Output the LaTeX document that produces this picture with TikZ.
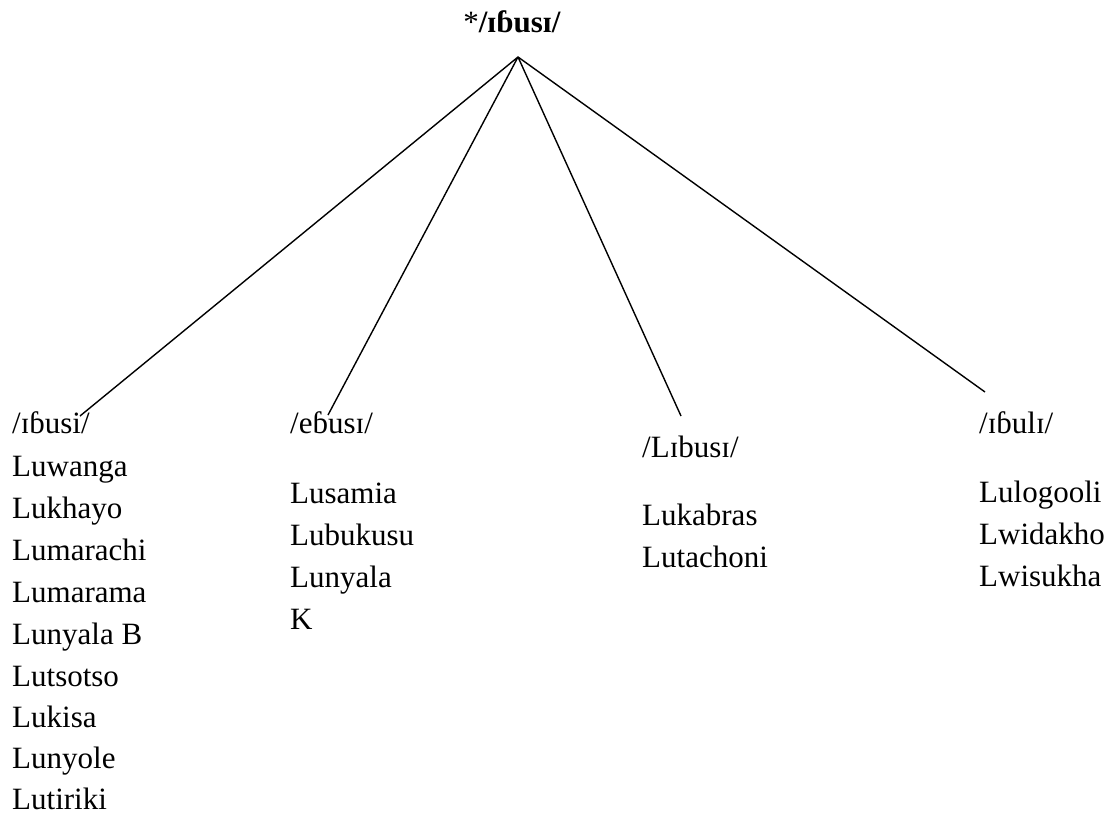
\documentclass[tikz,border=0pt]{standalone}
\usepackage{fontspec}
\setmainfont{Liberation Serif}
\begin{document}
\begin{tikzpicture}[x=1pt, y=-1pt,
  lbl/.style={anchor=base west, inner sep=0pt, font=\fontsize{31}{42}\selectfont},
  root/.style={anchor=base, inner sep=0pt, font=\fontsize{31}{42}\selectfont},
  branch/.style={line width=1.4pt}]
\useasboundingbox (0,0) rectangle (1115,816);

% proto-form and the apex of the branches
\node[root] (proto) at (512,33) {*\textbf{/ɪɓusɪ/}};
\coordinate (apex) at (518,57);

% branch ends
\coordinate (e1) at (80,416);
\coordinate (e2) at (328,415);
\coordinate (e3) at (681,416);
\coordinate (e4) at (985,392);

\draw[branch] (apex) -- (e1);
\draw[branch] (apex) -- (e2);
\draw[branch] (apex) -- (e3);
\draw[branch] (apex) -- (e4);

% first group
\node[lbl] (h1) at (12,433) {/ɪɓusi/};
\node[lbl] (a1) at (12,476) {Luwanga};
\node[lbl] (a2) at (12,518) {Lukhayo};
\node[lbl] (a3) at (12,560) {Lumarachi};
\node[lbl] (a4) at (12,602) {Lumarama};
\node[lbl] (a5) at (12,644) {Lunyala B};
\node[lbl] (a6) at (12,686) {Lutsotso};
\node[lbl] (a7) at (12,727) {Lukisa};
\node[lbl] (a8) at (12,768) {Lunyole};
\node[lbl] (a9) at (12,809) {Lutiriki};

% second group
\node[lbl] (h2) at (290,433) {/eɓusɪ/};
\node[lbl] (b1) at (290,503) {Lusamia};
\node[lbl] (b2) at (290,545) {Lubukusu};
\node[lbl] (b3) at (290,587) {Lunyala};
\node[lbl] (b4) at (290,629) {K};

% third group
\node[lbl] (h3) at (642,457) {/Lɪbusɪ/};
\node[lbl] (c1) at (642,525) {Lukabras};
\node[lbl] (c2) at (642,567) {Lutachoni};

% fourth group
\node[lbl] (h4) at (979,433) {/ɪɓulɪ/};
\node[lbl] (d1) at (979,502) {Lulogooli};
\node[lbl] (d2) at (979,544) {Lwidakho};
\node[lbl] (d3) at (979,586) {Lwisukha};
\end{tikzpicture}
\end{document}
